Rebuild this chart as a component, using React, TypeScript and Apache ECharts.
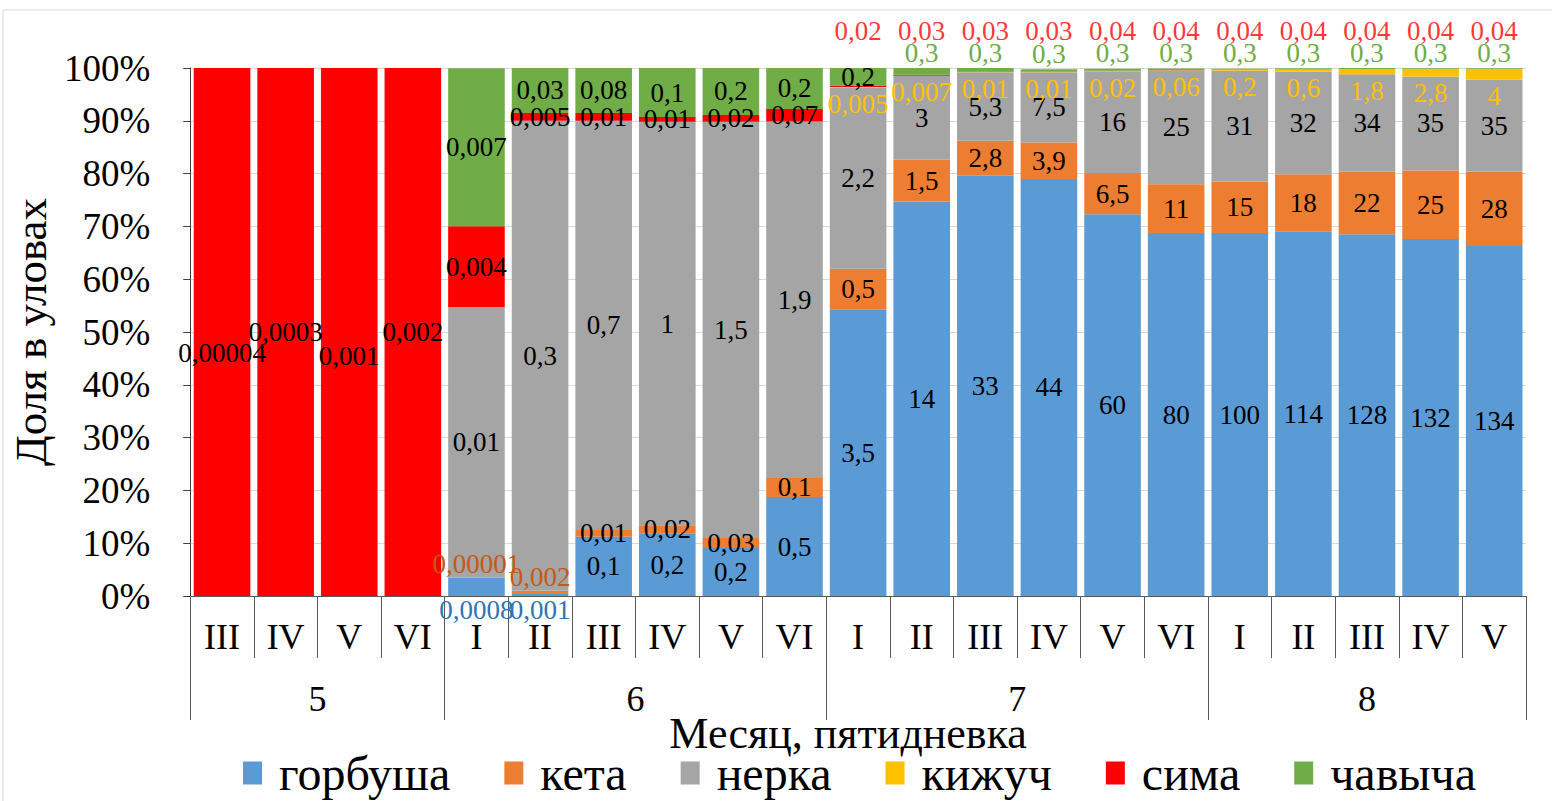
import React, { useEffect, useRef } from 'react';
import * as echarts from 'echarts';

// ---- categories ----
const pentads = ['III', 'IV', 'V', 'VI', 'I', 'II', 'III', 'IV', 'V', 'VI', 'I', 'II', 'III', 'IV', 'V', 'VI', 'I', 'II', 'III', 'IV', 'V'];
const months = ['5', '5', '5', '5', '6', '6', '6', '6', '6', '6', '7', '7', '7', '7', '7', '7', '8', '8', '8', '8', '8'];

const seriesNames = ['горбуша', 'кета', 'нерка', 'кижуч', 'сима', 'чавыча'];
const seriesColors = ['#5B9BD5', '#ED7D31', '#A5A5A5', '#FFC000', '#FF0000', '#70AD47'];

// ---- share in catch, % (bar heights) ----
const gorbushaShare = [0, 0, 0, 0, 3.4, 0.4, 11.2, 11.9, 9.1, 18.75, 54.3, 74.7, 79.6, 79.0, 72.3, 68.75, 68.75, 69.0, 68.5, 67.6, 66.3];
const ketaShare = [0, 0, 0, 0, 0.05, 0.6, 1.3, 1.5, 1.9, 3.6, 7.7, 7.9, 6.6, 6.9, 7.8, 9.25, 9.75, 10.9, 11.9, 13.0, 14.1];
const nerkaShare = [0, 0, 0, 0, 51.3, 89.0, 77.5, 76.4, 78.8, 67.5, 34.3, 15.9, 13.0, 13.3, 19.3, 21.5, 21.0, 19.4, 18.4, 17.8, 17.4];
const kizhuchShare = [0, 0, 0, 0, 0, 0, 0, 0, 0, 0, 0.1, 0.05, 0.03, 0.03, 0.03, 0.05, 0.15, 0.4, 1.0, 1.4, 2.0];
const simaShare = [100, 100, 100, 100, 15.3, 1.5, 1.5, 0.9, 1.3, 2.4, 0.3, 0.15, 0.1, 0.05, 0.05, 0.04, 0.03, 0.03, 0.02, 0.02, 0.02];
const chavychaShare = [0, 0, 0, 0, 29.9, 8.5, 8.5, 9.3, 8.9, 7.8, 3.4, 1.3, 0.7, 0.5, 0.4, 0.3, 0.2, 0.2, 0.2, 0.15, 0.15];

// ---- catch values shown as labels ----
const gorbushaCatch = ['', '', '', '', '0,0008', '0,001', '0,1', '0,2', '0,2', '0,5', '3,5', '14', '33', '44', '60', '80', '100', '114', '128', '132', '134'];
const ketaCatch = ['', '', '', '', '0,00001', '0,002', '0,01', '0,02', '0,03', '0,1', '0,5', '1,5', '2,8', '3,9', '6,5', '11', '15', '18', '22', '25', '28'];
const nerkaCatch = ['', '', '', '', '0,01', '0,3', '0,7', '1', '1,5', '1,9', '2,2', '3', '5,3', '7,5', '16', '25', '31', '32', '34', '35', '35'];
const kizhuchCatch = ['', '', '', '', '', '', '', '', '', '', '0,005', '0,007', '0,01', '0,01', '0,02', '0,06', '0,2', '0,6', '1,8', '2,8', '4'];
const simaCatch = ['0,00004', '0,0003', '0,001', '0,002', '0,004', '0,005', '0,01', '0,01', '0,02', '0,07', '0,02', '0,03', '0,03', '0,03', '0,04', '0,04', '0,04', '0,04', '0,04', '0,04', '0,04'];
const chavychaCatch = ['', '', '', '', '0,007', '0,03', '0,08', '0,1', '0,2', '0,2', '0,2', '0,3', '0,3', '0,3', '0,3', '0,3', '0,3', '0,3', '0,3', '0,3', '0,3'];

const yTicks = [0, 10, 20, 30, 40, 50, 60, 70, 80, 90, 100];

const shares = [gorbushaShare, ketaShare, nerkaShare, kizhuchShare, simaShare, chavychaShare];
const catches = [gorbushaCatch, ketaCatch, nerkaCatch, kizhuchCatch, simaCatch, chavychaCatch];

const FONT = '"Liberation Serif", "Times New Roman", serif';
const LABEL_SIZE = 27;
const simaLabelDrop: Record<number, number> = { 0: 21, 2: 24 };

function itemLabel(s: number, i: number): any {
  const text = catches[s][i];
  if (!text) return { show: false };
  const v = shares[s][i];
  if (s === 0 && v < 5) return { show: true, position: 'bottom', distance: 0, color: '#2E75B6' };
  if (s === 1 && v < 1) return { show: true, position: 'top', distance: 0, color: '#C55A11' };
  if (s === 3) return { show: true, position: 'bottom', distance: 3, color: '#FFC000' };
  if (s === 4 && v < 0.5) return { show: false };
  if (s === 5 && v < 2) return { show: true, position: 'top', distance: 2, color: '#70AD47' };
  const drop = s === 4 ? simaLabelDrop[i] || 0 : 0;
  return { show: true, position: 'inside', color: '#000', offset: [0, drop] };
}

// month groups (start index, end index exclusive)
const groups: { m: string; s: number; e: number }[] = [];
months.forEach((m, i) => {
  if (i === 0 || m !== months[i - 1]) groups.push({ m, s: i, e: i + 1 });
  else groups[groups.length - 1].e = i + 1;
});

export default function App() {
  const ref = useRef<HTMLDivElement>(null);
  useEffect(() => {
    if (!ref.current) return;
    const chart = echarts.init(ref.current, undefined, { renderer: 'svg' });

    const barSeries = seriesNames.map((name, s) => ({
      type: 'bar',
      name,
      stack: 'total',
      barCategoryGap: '11%',
      xAxisIndex: 0,
      yAxisIndex: 0,
      itemStyle: { color: seriesColors[s] },
      label: {
        show: true,
        fontFamily: FONT,
        fontSize: LABEL_SIZE,
        color: '#000',
        textBorderWidth: 0,
        formatter: (p: any) => catches[s][p.dataIndex],
      },
      data: shares[s].map((v, i) => ({ value: v, label: itemLabel(s, i) })),
    }));

    const simaTop = {
      type: 'scatter',
      name: 'сима-подписи',
      xAxisIndex: 0,
      yAxisIndex: 0,
      symbolSize: 1,
      clip: false,
      silent: true,
      itemStyle: { color: 'rgba(0,0,0,0)' },
      label: {
        show: true,
        position: 'top',
        distance: 23,
        fontFamily: FONT,
        fontSize: LABEL_SIZE,
        color: '#FF0000',
        formatter: (p: any) => simaCatch[p.dataIndex],
      },
      data: simaShare.map((v) => (v < 0.5 ? yTicks[yTicks.length - 1] : '-')),
    };

    const option: any = {
      animation: false,
      textStyle: { fontFamily: FONT },
      graphic: [
        {
          type: 'rect',
          shape: { x: 3, y: 10, width: 1600, height: 1000 },
          style: { fill: 'none', stroke: '#D9D9D9', lineWidth: 1 },
          silent: true,
        },
      ],
      grid: { left: 190, right: 26, top: 68, bottom: 205 },
      legend: {
        data: seriesNames,
        left: 238,
        top: 744,
        icon: 'rect',
        itemWidth: 19,
        itemHeight: 23,
        itemGap: 54,
        textStyle: { fontFamily: FONT, fontSize: 48, lineHeight: 48, color: '#000', padding: [0, 0, 0, 12] },
      },
      xAxis: [
        {
          type: 'category',
          data: pentads,
          position: 'bottom',
          axisLine: { show: true, lineStyle: { color: '#595959', width: 1 } },
          axisTick: { show: true, length: 62, lineStyle: { color: '#595959' } },
          axisLabel: { interval: 0, fontFamily: FONT, fontSize: 36, color: '#000', margin: 23 },
          splitLine: { show: false },
        },
        {
          type: 'category',
          data: pentads,
          position: 'bottom',
          offset: 124,
          axisLine: { show: false },
          axisTick: {
            show: true,
            inside: true,
            length: 62,
            interval: (i: number) => i === 0 || months[i] !== months[i - 1],
            lineStyle: { color: '#595959' },
          },
          axisLabel: { show: false },
          splitLine: { show: false },
        },
        {
          type: 'value',
          position: 'bottom',
          offset: 62,
          min: 0,
          max: pentads.length,
          interval: 0.5,
          axisLine: { show: false },
          axisTick: { show: false },
          splitLine: { show: false },
          axisLabel: {
            fontFamily: FONT,
            fontSize: 36,
            color: '#000',
            margin: 23,
            formatter: (v: number) => {
              const g = groups.find((g) => Math.abs((g.s + g.e) / 2 - v) < 1e-6);
              return g ? g.m : '';
            },
          },
          name: 'Месяц, пятидневка',
          nameLocation: 'middle',
          nameMoveOverlap: false,
          nameGap: 53,
          nameTextStyle: { fontFamily: FONT, fontSize: 44, color: '#000', padding: [0, 20, 0, 0] },
        },
      ],
      yAxis: {
        type: 'value',
        min: yTicks[0],
        max: yTicks[yTicks.length - 1],
        interval: 10,
        axisLine: { show: true, lineStyle: { color: '#404040', width: 1 } },
        axisTick: { show: true, length: 7, lineStyle: { color: '#404040' } },
        splitLine: { show: true, lineStyle: { color: '#D9D9D9', width: 1 } },
        axisLabel: { formatter: '{value}%', fontFamily: FONT, fontSize: 37, color: '#000', margin: 40 },
        name: 'Доля в уловах',
        nameLocation: 'middle',
        nameGap: 132,
        nameTextStyle: { fontFamily: FONT, fontSize: 45, color: '#000' },
      },
      series: [...barSeries, simaTop],
    };
    chart.setOption(option);
    return () => chart.dispose();
  }, []);
  return <div ref={ref} style={{ position: 'fixed', left: 0, top: 0, width: 1552, height: 801, background: '#fff' }} />;
}
